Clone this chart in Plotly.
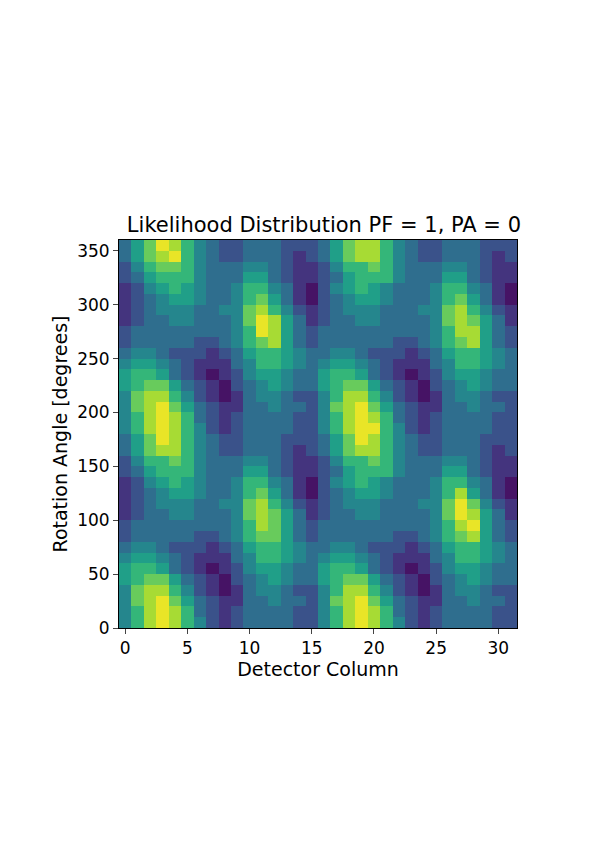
import plotly.graph_objects as go

# detector columns 0..31, rotation angle bins of 10 degrees (centres)
columns = list(range(32))
angles = [a + 5 for a in range(0, 360, 10)]

# likelihood levels (0 = low, 9 = high), one row per angle bin
rows = [
    "46898642123333224689864212333322",  # 0
    "46898632123333224689863212333322",
    "47897532113343324789753211334332",
    "47886421013443224688642101344322",
    "56775321023454335677532102345433",
    "56653210124554335665321012455433",  # 50
    "45543211134665434554321113466543",
    "34432221235665433443222123566543",
    "23333322346775323333332234678532",
    "23333333346875323333333334689532",
    "12334433347875312334433334798531",  # 100
    "12344433447864212344433344797421",
    "12345543346753102345543334685310",
    "12456543346643102456543334664310",
    "23566643335532112356664333553211",
    "24667643334432112466764333443211",  # 150
    "35788643223332123578864322333212",
    "35798643223332223579864322333222",
    "46898642123333224689964212333322",  # 180
    "46898632123333224689863212333322",
    "47897532113343324789753211334332",
    "47886421013443224688642101344322",
    "56775321023454335677532102345433",
    "56653210124554335665321012455433",
    "45543211134665434554321113466543",
    "34432221235665433443222123566543",
    "23333322346785323333332234678532",
    "23333333346985323333333334688532",  # 270
    "12334433347985312334433334787531",
    "12344433447864212344433344786421",
    "12345543346753102345543334675310",
    "12456543346643102456543334664310",
    "23566643335532112356664333553211",
    "24677643334432112466764333443211",
    "35789643223332123578864322333212",
    "35798643223332223578864322333222",  # 350
]
z = [[int(ch) for ch in r] for r in rows]

fig = go.Figure(
    go.Heatmap(
        x=columns,
        y=angles,
        z=z,
        zmin=-0.5,
        zmax=9.3,
        colorscale="Viridis",
        showscale=False,
        zsmooth=False,
    )
)

font = dict(family="DejaVu Sans", size=17, color="black")
fig.update_layout(
    width=595,
    height=864,
    margin=dict(l=111, r=86, t=232, b=244, autoexpand=False),
    paper_bgcolor="white",
    plot_bgcolor="white",
    font=font,
    title=dict(
        text="Likelihood Distribution PF = 1, PA = 0",
        font=dict(family="DejaVu Sans", size=21, color="black"),
        x=0.531, xanchor="center", y=0.749, yanchor="middle",
    ),
    xaxis=dict(
        title=dict(text="Detector Column", font=dict(size=19, color="black"), standoff=2),
        range=[-0.5, 31.5], tickvals=[0, 5, 10, 15, 20, 25, 30],
        ticks="outside", ticklen=5, tickfont=font,
        showline=True, linecolor="black", mirror=True, showgrid=False, zeroline=False,
    ),
    yaxis=dict(
        title=dict(text="Rotation Angle [degrees]", font=dict(size=19, color="black"), standoff=4),
        range=[0, 360], tickvals=[0, 50, 100, 150, 200, 250, 300, 350],
        ticks="outside", ticklen=5, tickfont=font,
        showline=True, linecolor="black", mirror=True, showgrid=False, zeroline=False,
    ),
)

fig.write_html("out.html")
